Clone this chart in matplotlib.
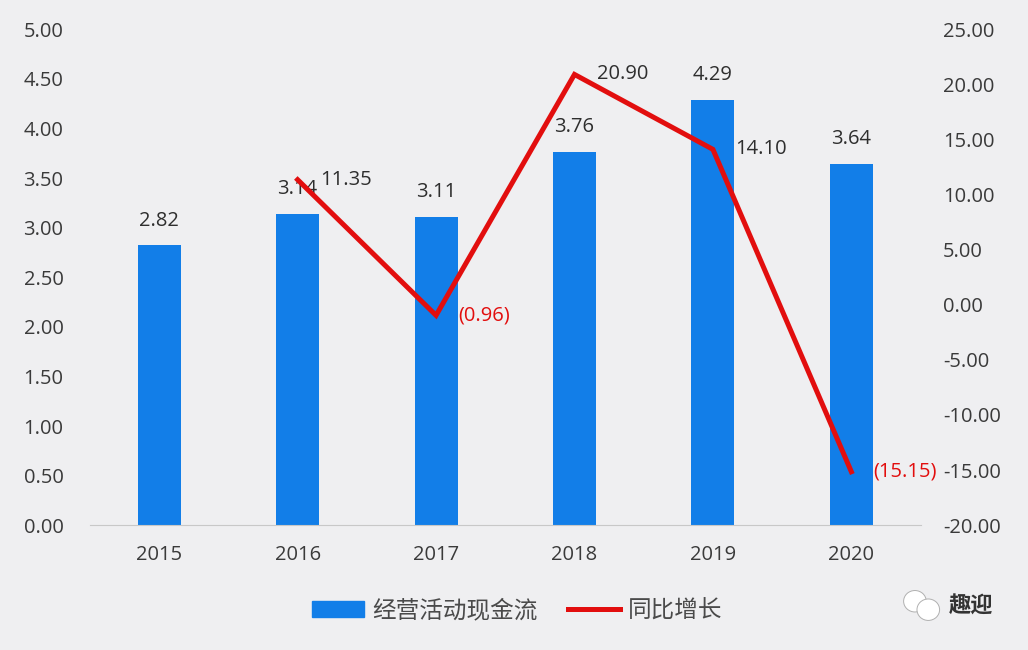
import numpy as np
import matplotlib.pyplot as plt
from matplotlib.lines import Line2D
from matplotlib.patches import Patch, Ellipse

num_font = ['Open Sans', 'Noto Sans CJK SC', 'DejaVu Sans']
plt.rcParams['font.family'] = num_font

years = ['2015', '2016', '2017', '2018', '2019', '2020']
cash_flow = [2.82, 3.14, 3.11, 3.76, 4.29, 3.64]
growth_years = ['2016', '2017', '2018', '2019', '2020']
growth = [11.35, -0.96, 20.90, 14.10, -15.15]

bg = '#efeff1'
blue = '#127ee8'
red = '#e20e0e'
txt = '#2e2e2e'

fig = plt.figure(figsize=(10.28, 6.5), dpi=100, facecolor=bg)
ax = fig.add_axes([0.0875, 0.192, 0.808, 0.763], facecolor=bg)
x = np.arange(len(years))
ax.bar(x, cash_flow, width=0.31, color=blue, zorder=2)
ax.set_xlim(-0.5, len(years) - 0.5)
ax.set_ylim(0, 5)
left_ticks = np.arange(0, 5.01, 0.5)
ax.set_yticks(left_ticks)
ax.set_yticklabels([f'{v:.2f}' for v in left_ticks])
ax.set_xticks(x)
ax.set_xticklabels(years)
ax.tick_params(axis='both', length=0, labelsize=14.5, colors='#3a3a3a')
ax.tick_params(axis='x', pad=14)
ax.tick_params(axis='y', pad=19)
for s in ['top', 'right', 'left']:
    ax.spines[s].set_visible(False)
ax.spines['bottom'].set_color('#c8c8c8')

for xi, v in zip(x, cash_flow):
    ax.text(xi, v + 0.25, f'{v:.2f}', ha='center', va='center', fontsize=14.5, color=txt)

ax2 = ax.twinx()
gx = [years.index(y) for y in growth_years]
ax2.plot(gx, growth, color=red, lw=3.6, zorder=3, solid_joinstyle='miter')
ax2.set_ylim(-20, 25)
right_ticks = np.arange(-20, 25.01, 5)
ax2.set_yticks(right_ticks)
ax2.set_yticklabels([f'{v:.2f}' for v in right_ticks])
ax2.tick_params(axis='y', length=0, labelsize=14.5, colors='#3a3a3a', pad=16)
for s in ['top', 'right', 'left', 'bottom']:
    ax2.spines[s].set_visible(False)

for xi, v in zip(gx, growth):
    if v < 0:
        ax2.text(xi + 0.16, v, f'({abs(v):.2f})', ha='left', va='center', fontsize=14.5, color=red)
    else:
        ax2.text(xi + 0.16, v, f'{v:.2f}', ha='left', va='center', fontsize=14.5, color=txt)

handles = [Patch(color=blue), Line2D([0], [0], color=red, lw=3.6)]
fig.legend(handles, ['经营活动现金流', '同比增长'], loc='center', bbox_to_anchor=(0.503, 0.06),
           ncol=2, frameon=False, handlelength=2.2, handleheight=0.65, handletextpad=0.35,
           columnspacing=1.3, labelcolor='#4a4a4a',
           prop={'family': ['Noto Sans CJK SC'], 'size': 17})

# watermark
for cx, cy, w in [(0.890, 0.075, 0.022), (0.903, 0.062, 0.022)]:
    fig.patches.append(Ellipse((cx, cy), w, w * 1.5, transform=fig.transFigure,
                               facecolor='white', edgecolor='#b0b0b0', lw=0.7))
fig.text(0.945, 0.067, '趣迎', ha='center', va='center', fontsize=16, color='#333333',
         family=['Noto Sans CJK SC'], fontweight='bold')

fig.savefig('out.png', dpi=100, facecolor=bg)
